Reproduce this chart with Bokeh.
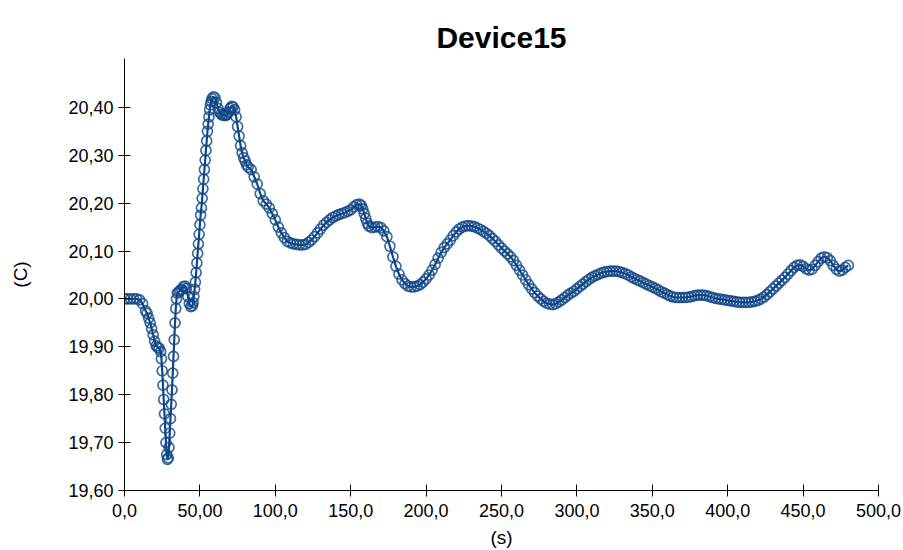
from bokeh.plotting import figure
from bokeh.models import Range1d, FixedTicker
from bokeh.embed import file_html
from bokeh.resources import INLINE

# Temperature log of Device15: elapsed time (s) and temperature (C)
time_s = [
    0, 2, 4, 6, 8, 10, 12, 14,
    15, 16, 17, 18, 19, 20, 21, 22, 23,
    24.0, 24.5, 25.0, 25.5, 26.0, 26.5, 27.0, 27.5, 28.0, 28.5,
    29.0, 29.5, 30.0, 30.5, 31.0, 31.5, 32.0, 32.5, 33.0, 33.5, 34.0, 34.5, 35.0,
    36, 37, 38, 39, 40, 41, 42, 43, 44,
    45.0, 45.5, 46.0, 46.5, 47.0, 47.5, 48.0, 48.5, 49.0, 49.5, 50.0, 50.5,
    51.0, 51.5, 52.0, 52.5, 53.0, 53.5, 54.0, 54.5, 55.0, 55.5, 56.0, 56.5,
    57.0, 57.5, 58.0,
    59, 60, 61, 62, 63, 64, 65, 66, 67, 68, 69, 70, 71, 72, 73, 74, 75, 76,
    77, 78, 79, 80, 81, 82,
    84, 86, 88, 90, 92, 94, 96, 98, 100, 102, 104, 106, 108, 110, 112, 114,
    116, 118, 120, 122, 124, 126, 128, 130, 132, 134, 136, 138, 140, 142, 144,
    146, 148, 150, 152, 154, 156, 157, 158, 159, 160, 161, 162,
    164, 166, 168, 170, 172, 174, 176, 178, 180, 182, 184, 186, 188, 190, 192,
    194, 196, 198, 200, 202, 204, 206, 208, 210, 212, 214, 216, 218, 220, 222,
    224, 226, 228, 230, 232, 234, 236, 238, 240, 242, 244, 246, 248, 250, 252,
    254, 256, 258, 260, 262, 264, 266, 268, 270, 272, 274, 276, 278, 280, 282,
    284, 286, 288, 290, 292, 294, 296, 298, 300, 302, 304, 306, 308, 310, 312,
    314, 316, 318, 320, 322, 324, 326, 328, 330, 332, 334, 336, 338, 340, 342,
    344, 346, 348, 350, 352, 354, 356, 358, 360, 362, 364, 366, 368, 370, 372,
    374, 376, 378, 380, 382, 384, 386, 388, 390, 392, 394, 396, 398, 400, 402,
    404, 406, 408, 410, 412, 414, 416, 418, 420, 422, 424, 426, 428, 430, 432,
    434, 436, 438, 440, 442, 444, 446, 448, 450, 452, 454, 456, 458, 460, 462,
    464, 466, 468, 470, 472, 474, 476, 478, 480,
]

temp_c = [
    20.000, 20.000, 20.000, 20.000, 20.000, 19.998, 19.990, 19.975,
    19.970, 19.960, 19.950, 19.938, 19.925, 19.912, 19.902, 19.899, 19.897,
    19.890, 19.875, 19.850, 19.820, 19.790, 19.760, 19.730, 19.700, 19.675, 19.665,
    19.668, 19.690, 19.720, 19.750, 19.780, 19.810, 19.845, 19.880, 19.915, 19.950, 19.980, 20.000, 20.012,
    20.015, 20.018, 20.020, 20.025, 20.027, 20.022, 20.005, 19.990, 19.984,
    19.986, 19.992, 20.005, 20.020, 20.035, 20.055, 20.075, 20.095, 20.115, 20.135, 20.155, 20.175,
    20.190, 20.210, 20.230, 20.250, 20.270, 20.290, 20.310, 20.330, 20.350, 20.365, 20.380, 20.395,
    20.405, 20.412, 20.418,
    20.422, 20.420, 20.410, 20.398, 20.390, 20.386, 20.384, 20.383, 20.383, 20.385, 20.390, 20.398, 20.402, 20.401, 20.395, 20.380, 20.360, 20.340,
    20.320, 20.305, 20.295, 20.288, 20.280, 20.275,
    20.270, 20.255, 20.240, 20.220, 20.205, 20.198, 20.190, 20.178, 20.165, 20.150, 20.138, 20.128, 20.120, 20.117, 20.115, 20.114,
    20.113, 20.113, 20.114, 20.118, 20.123, 20.130, 20.138, 20.146, 20.154, 20.160, 20.165, 20.170, 20.173, 20.176, 20.178,
    20.180, 20.183, 20.186, 20.192, 20.197, 20.198, 20.195, 20.188, 20.178, 20.168, 20.158, 20.152,
    20.149, 20.150, 20.151, 20.149, 20.142, 20.130, 20.110, 20.088, 20.068, 20.052, 20.040, 20.032, 20.027, 20.025, 20.025,
    20.027, 20.030, 20.035, 20.042, 20.050, 20.060, 20.072, 20.085, 20.097, 20.107, 20.115, 20.123, 20.132, 20.140, 20.146,
    20.150, 20.152, 20.153, 20.152, 20.151, 20.148, 20.145, 20.141, 20.137, 20.132, 20.126, 20.120, 20.113, 20.106, 20.100,
    20.094, 20.088, 20.080, 20.070, 20.060, 20.050, 20.040, 20.030, 20.021, 20.013, 20.006, 20.000, 19.995, 19.991, 19.989,
    19.988, 19.990, 19.994, 19.998, 20.003, 20.008, 20.012, 20.016, 20.021, 20.026, 20.031, 20.036, 20.041, 20.045, 20.048,
    20.051, 20.054, 20.056, 20.057, 20.058, 20.058, 20.058, 20.057, 20.055, 20.053, 20.050, 20.046, 20.043, 20.040, 20.037,
    20.034, 20.031, 20.028, 20.025, 20.022, 20.019, 20.015, 20.012, 20.009, 20.006, 20.004, 20.003, 20.003, 20.003, 20.003,
    20.004, 20.005, 20.007, 20.008, 20.008, 20.008, 20.007, 20.005, 20.003, 20.001, 20.000, 19.999, 19.998, 19.997, 19.996,
    19.995, 19.994, 19.993, 19.993, 19.993, 19.993, 19.994, 19.995, 19.997, 20.000, 20.004, 20.009, 20.015, 20.021, 20.027,
    20.033, 20.039, 20.045, 20.052, 20.059, 20.066, 20.070, 20.071, 20.068, 20.063, 20.060, 20.062, 20.070, 20.078, 20.085,
    20.088, 20.086, 20.080, 20.070, 20.062, 20.058, 20.060, 20.066, 20.070,
]

# Axis ticks and their labels (comma decimal separator)
x_ticks = [0, 50, 100, 150, 200, 250, 300, 350, 400, 450, 500]
x_tick_labels = ["0,0", "50,00", "100,0", "150,0", "200,0", "250,0",
                 "300,0", "350,0", "400,0", "450,0", "500,0"]
y_ticks = [19.6, 19.7, 19.8, 19.9, 20.0, 20.1, 20.2, 20.3, 20.4]
y_tick_labels = ["19,60", "19,70", "19,80", "19,90", "20,00",
                 "20,10", "20,20", "20,30", "20,40"]

LINE_COLOR = "#0f4686"
FONT = "Liberation Sans"

p = figure(
    width=903, height=550,
    output_backend="svg", toolbar_location=None,
    x_range=Range1d(0, 500), y_range=Range1d(19.6, 20.502),
    title="Device15",
    min_border_left=124, min_border_right=25,
    min_border_top=58, min_border_bottom=59,
)
p.outline_line_color = None
p.background_fill_color = "white"
p.border_fill_color = "white"
p.xgrid.visible = False
p.ygrid.visible = False

p.title.align = "center"
p.title.text_font = FONT
p.title.text_font_size = "30px"
p.title.text_font_style = "bold"
p.title.text_color = "black"

for ax, ticks, labels in ((p.xaxis[0], x_ticks, x_tick_labels),
                          (p.yaxis[0], y_ticks, y_tick_labels)):
    ax.ticker = FixedTicker(ticks=ticks, minor_ticks=[])
    ax.major_label_overrides = dict(zip(ticks, labels))
    ax.major_label_text_font = FONT
    ax.major_label_text_font_size = "18px"
    ax.major_label_text_color = "black"
    ax.axis_label_text_font = FONT
    ax.axis_label_text_font_size = "19px"
    ax.axis_label_text_font_style = "normal"
    ax.axis_label_text_color = "black"
    ax.axis_line_color = "black"
    ax.major_tick_line_color = "black"
    ax.major_tick_in = 6
    ax.major_tick_out = 6
    ax.minor_tick_line_color = None

p.xaxis.axis_label = "(s)"
p.yaxis.axis_label = "(C)"
p.xaxis.major_label_standoff = 7
p.xaxis.axis_label_standoff = 7
p.yaxis.major_label_standoff = 5
p.yaxis.axis_label_standoff = 34

p.line(time_s, temp_c, line_color=LINE_COLOR, line_width=2.2)
p.scatter(time_s, temp_c, marker="circle", size=10, fill_color=None,
          line_color=LINE_COLOR, line_alpha=0.8, line_width=1.7)

open("out.html", "w").write(file_html(p, INLINE))
